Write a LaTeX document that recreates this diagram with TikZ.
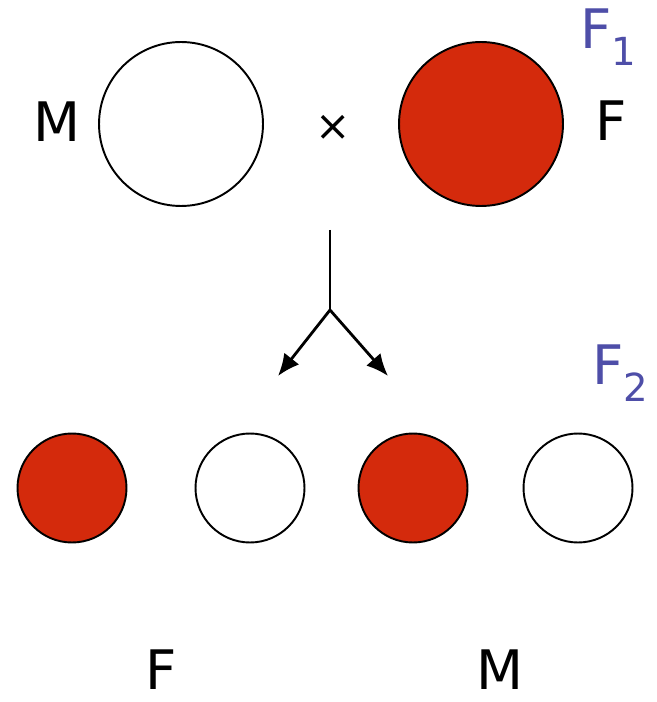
\documentclass[tikz,border=0pt]{standalone}
\usepackage{fontspec}
\setmainfont{DejaVu Sans}
\usepackage{xcolor}
\usetikzlibrary{arrows.meta}
\definecolor{CrossRed}{RGB}{212,42,12}
\definecolor{GenBlue}{RGB}{78,78,168}
\newcommand{\gensub}[1]{\raisebox{-0.3em}{\fontsize{22}{24}\selectfont #1}}

\begin{document}
\begin{tikzpicture}[
    x=0.02cm, y=-0.02cm,
    white ball/.style={
        circle,
        draw=black,
        line width=1.1pt,
        fill=white,
        inner sep=0pt
    },
    red ball/.style={
        white ball,
        fill=CrossRed
    },
    big/.style={
        minimum size=3.28cm
    },
    small/.style={
        minimum size=2.18cm
    },
    label/.style={
        font=\fontsize{31}{34}\selectfont,
        inner sep=0pt
    },
    gen/.style={
        label,
        text=GenBlue
    },
    arrow/.style={
        -{Latex[length=0.44cm,width=0.38cm]},
        line width=1.6pt
    }
]
\useasboundingbox (0,0) rectangle (656,702);

% parents
\node[white ball, big] (mother) at (181,124) {};
\node[red ball, big] (father) at (481,124) {};

\node[label] (m1) at (57,122) {M};
\node[label] (cross) at (333,128) {\fontsize{24}{26}\selectfont ×};
\node[label] (f1) at (611,121) {F};
\node[gen] (gen1) at (608,37) {F\gensub{1}};

% offspring
\node[red ball, small] (o1) at (72,488) {};
\node[white ball, small] (o2) at (250,488) {};
\node[red ball, small] (o3) at (413,488) {};
\node[white ball, small] (o4) at (578,488) {};

\node[gen] (gen2) at (620,373) {F\gensub{2}};

\node[label] (f2) at (161,670) {F};
\node[label] (m2) at (500,670) {M};

% fork
\coordinate (stem) at (330,230);
\coordinate (fork) at (330,310);
\coordinate (lefttip) at (278,376);
\coordinate (righttip) at (388,376);

\draw[line width=1.6pt] (stem) -- (fork);
\draw[arrow] (fork) -- (lefttip);
\draw[arrow] (fork) -- (righttip);

\end{tikzpicture}
\end{document}
